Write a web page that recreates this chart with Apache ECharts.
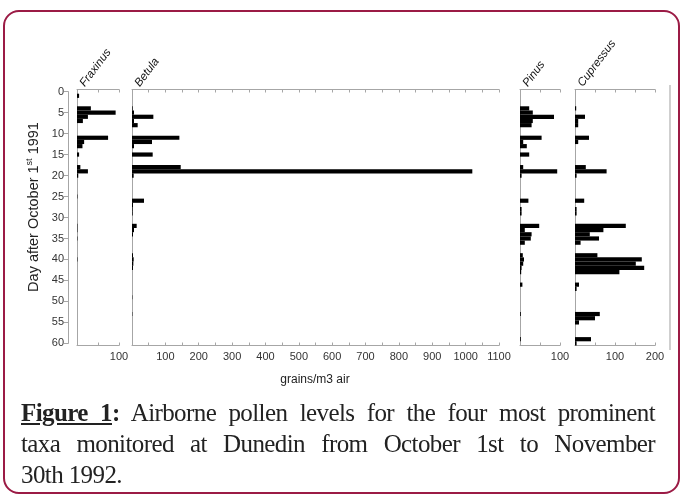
<!DOCTYPE html>
<html>
<head>
<meta charset="utf-8">
<script src="https://cdn.jsdelivr.net/npm/echarts/dist/echarts.min.js"></script>
<style>
body { margin: 0; background: #fff; }
#wrap { position: relative; width: 683px; height: 503px; overflow: hidden; }
#frame { position: absolute; left: 3px; top: 10px; width: 673px; height: 480px; border: 2.5px solid #9b1b45; border-radius: 16px; }
#chart { position: absolute; left: 0; top: 0; width: 683px; height: 503px; }
#caption { position: absolute; left: 21px; top: 397px; width: 634px; font-family: 'Liberation Serif', 'DejaVu Serif', serif; font-size: 25px; letter-spacing: -0.6px; line-height: 31px; color: #222; }
#caption div { white-space: nowrap; }
#caption .j { text-align: justify; text-align-last: justify; }
#caption u { font-weight: bold; }
</style>
</head>
<body>
<div id="wrap">
  <div id="frame"></div>
  <div id="chart"></div>
  <div id="caption">
    <div class="j"><u>Figure 1</u><b>:</b> Airborne pollen levels for the four most prominent</div>
    <div class="j">taxa monitored at Dunedin from October 1st to November</div>
    <div>30th 1992.</div>
  </div>
</div>
<script>
// 数据
var days = [0,1,2,3,4,5,6,7,8,9,10,11,12,13,14,15,16,17,18,19,20,21,22,23,24,25,26,27,28,29,30,
  31,32,33,34,35,36,37,38,39,40,41,42,43,44,45,46,47,48,49,50,51,52,53,54,55,56,57,58,59,60]
var taxa = ['Fraxinus', 'Betula', 'Pinus', 'Cupressus']
var fraxinus = [0,5,0,0,33,92,26,14,0,0, 0,74,17,13,0,5,0,0,8,26, 3,0,0,0,0,1,0,0,0,0,
  0,0,1,1,0,1,0,0,0,0, 1,0,0,0,0,0,0,0,0,0, 0,0,0,0,0,0,0,0,0,0, 0]
var betula = [0,0,0,0,2,6,64,6,17,0, 0,142,60,6,0,62,0,0,146,1020, 5,0,0,0,0,0,36,3,2,2,
  0,0,14,6,3,0,0,0,0,3, 5,4,3,0,0,0,0,0,0,1, 0,0,0,1,0,0,0,0,0,0, 0]
var pinus = [0,0,0,0,23,32,85,32,29,0, 0,54,8,17,0,23,0,0,8,93, 4,0,0,0,0,0,21,0,4,4,
  0,0,48,12,29,27,12,0,0,7, 10,8,4,3,0,0,6,0,0,0, 0,0,0,2,0,0,0,0,0,2, 0]
var cupressus = [0,0,0,0,3,0,25,8,8,0, 0,35,8,0,0,0,0,0,27,79, 4,0,0,0,0,0,23,0,4,4,
  0,0,127,71,37,60,14,0,0,56, 167,152,173,111,0,0,10,4,0,0, 0,0,0,62,50,10,0,0,0,40, 4]
var axisMax = [100, 1100, 100, 200]
var dayTicks = [0, 5, 10, 15, 20, 25, 30, 35, 40, 45, 50, 55, 60]

var seriesData = [fraxinus, betula, pinus, cupressus]
// 每个面板的位置
var panelLeft = [77, 132, 520, 575]
var panelWidth = [42, 367, 40, 80]
var top0 = 89.5
var plotH = 256
var grey = '#a6a6a6'

var grids = [], xAxes = [], yAxes = [], series = [], graphics = []
for (var i = 0; i < 4; i++) {
  grids.push({ left: panelLeft[i], width: panelWidth[i], top: top0, height: plotH })
  var base = {
    type: 'value', gridIndex: i, min: 0, max: axisMax[i], interval: 50,
    splitLine: { show: false },
    axisLine: { show: true, lineStyle: { color: grey } },
    axisTick: { show: true, inside: true, length: 3, lineStyle: { color: grey } }
  }
  // 底部坐标轴（带标签）
  xAxes.push(Object.assign({}, base, {
    position: 'bottom',
    axisLabel: {
      color: '#333', fontSize: 11, fontFamily: 'Liberation Sans', margin: 6,
      formatter: function (v) { return (v > 0 && v % 100 === 0) ? String(v) : '' }
    }
  }))
  // 顶部坐标轴
  xAxes.push(Object.assign({}, base, { position: 'top', axisLabel: { show: false } }))
  yAxes.push({
    type: 'category', gridIndex: i, data: days, inverse: true,
    axisLine: { show: true, onZero: false, lineStyle: { color: grey } },
    axisTick: { show: false }, axisLabel: { show: false }, splitLine: { show: false }
  })
  series.push({
    name: taxa[i], type: 'bar', xAxisIndex: i * 2, yAxisIndex: i,
    data: seriesData[i], barWidth: '100%', silent: true,
    itemStyle: { color: '#000' }
  })
  // 面板标题（斜体，倾斜）
  graphics.push({
    type: 'text', x: panelLeft[i] + 10, y: 89, rotation: 53 * Math.PI / 180,
    style: {
      text: taxa[i], fontSize: 11.5, fontStyle: 'italic', fontFamily: 'Liberation Sans',
      fill: '#111', textAlign: 'left', verticalAlign: 'bottom'
    }
  })
}

// 左侧天数坐标轴
var dayStep = dayTicks[1] - dayTicks[0]
grids.push({ left: 68, width: 1, top: 91.6, height: 251.8 })
xAxes.push({ type: 'value', gridIndex: 4, show: false })
yAxes.push({
  type: 'value', gridIndex: 4, min: dayTicks[0], max: dayTicks[dayTicks.length - 1],
  interval: dayStep, inverse: true, splitLine: { show: false },
  axisLine: { show: true, lineStyle: { color: grey } },
  axisTick: { show: true, length: 4, lineStyle: { color: grey } },
  axisLabel: { color: '#333', fontSize: 11, fontFamily: 'Liberation Sans', margin: 4 }
})

graphics.push({
  type: 'text', x: 34, y: 207, rotation: Math.PI / 2,
  style: {
    text: '{a|Day after October 1}{s|st}{a| 1991}',
    textAlign: 'center', verticalAlign: 'middle',
    rich: {
      a: { fontSize: 14.5, fontFamily: 'Liberation Sans', fill: '#222', lineHeight: 18 },
      s: { fontSize: 9, fontFamily: 'Liberation Sans', fill: '#222', verticalAlign: 'top', lineHeight: 18 }
    }
  }
})
graphics.push({
  type: 'text', x: 315, y: 380,
  style: { text: 'grains/m3 air', fontSize: 12, fontFamily: 'Liberation Sans', fill: '#222', textAlign: 'center', verticalAlign: 'middle' }
})
graphics.push({
  type: 'line', shape: { x1: 670, y1: 85, x2: 670, y2: 350 },
  style: { stroke: '#b0b0b0', lineWidth: 1.2 }
})

var myChart = echarts.init(document.getElementById('chart'))
myChart.setOption({
  animation: false,
  grid: grids,
  xAxis: xAxes,
  yAxis: yAxes,
  series: series,
  graphic: graphics
})
</script>
</body>
</html>
